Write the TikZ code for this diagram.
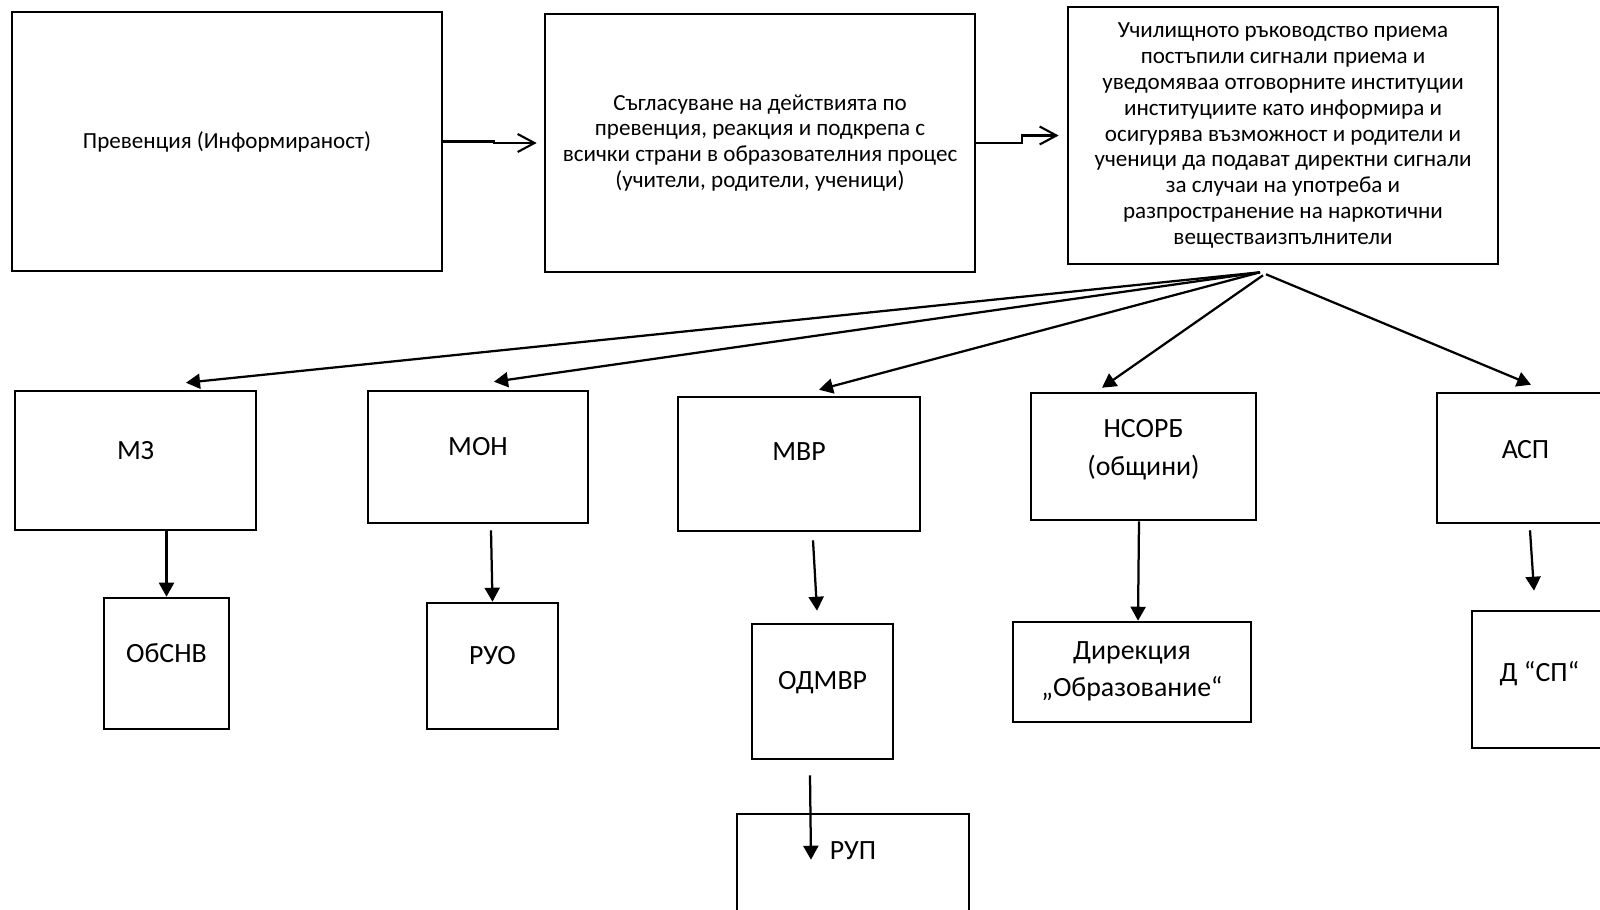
\documentclass[tikz,border=0pt]{standalone}
\usepackage{fontspec}
\setmainfont{Carlito}
\usetikzlibrary{arrows.meta}

\newcommand{\topfont}{\fontsize{16.4}{18.4}\selectfont}
\newcommand{\lowfont}{\fontsize{19.8}{26.7}\selectfont}

\begin{document}
\begin{tikzpicture}[x=0.025cm, y=-0.025cm,
    box/.style={draw, line width=1.8pt, align=center, inner sep=0pt},
    topbox/.style={box, font=\topfont, minimum width=10.75cm},
    lowbox/.style={box, font=\lowfont},
    barb/.style={line width=1.5pt, -{Straight Barb[length=0.42cm, width=0.45cm]}},
    tri/.style={line width=1.6pt, -{Triangle[length=0.35cm, width=0.375cm]}}]
    \useasboundingbox (0,0) rectangle (1600,909);
    \clip (0,0) rectangle (1600,909);

    % Top row
    \node[topbox, minimum height=6.475cm] (prev) at (227,141.5) {Превенция (Информираност)};
    \node[topbox, minimum height=6.45cm] (sagl) at (760,143)
        {Съгласуване на действията по\\превенция, реакция и подкрепа с\\всички страни в образователния процес\\(учители, родители, ученици)};
    \node[topbox, minimum height=6.425cm] (rakov) at (1283,135.5)
        {Училищното ръководство приема\\постъпили сигнали приема и\\уведомяваа отговорните институции\\институциите като информира и\\осигурява възможност и родители и\\ученици да подават директни сигнали\\за случаи на употреба и\\разпространение на наркотични\\веществаизпълнители};

    % Institutions
    \node[lowbox, minimum width=6.025cm, minimum height=3.475cm, text depth=0.525cm] (mz) at (135.5,460.5) {МЗ};
    \node[lowbox, minimum width=5.5cm, minimum height=3.3cm, text depth=0.55cm] (mon) at (478,457) {МОН};
    \node[lowbox, minimum width=6.05cm, minimum height=3.35cm, text depth=0.6cm] (mvr) at (799,464) {МВР};
    \node[lowbox, minimum width=5.625cm, minimum height=3.175cm, text depth=0.45cm] (nsorb) at (1143.5,456.5) {НСОРБ\\(общини)};
    \node[lowbox, minimum width=4.425cm, minimum height=3.25cm, text depth=0.425cm] (asp) at (1525.5,458) {АСП};

    % Local units
    \node[lowbox, minimum width=3.125cm, minimum height=3.275cm, text depth=0.525cm] (obsnv) at (166.5,663.5) {ОбСНВ};
    \node[lowbox, minimum width=3.275cm, minimum height=3.15cm, text depth=0.55cm] (ruo) at (492.5,666) {РУО};
    \node[lowbox, minimum width=3.525cm, minimum height=3.375cm, text depth=0.575cm] (odmvr) at (822.5,691.5) {ОДМВР};
    \node[lowbox, minimum width=5.8cm, minimum height=2.525cm, text depth=0.675cm] (rup) at (853,864.5) {РУП};
    \node[lowbox, minimum width=5.95cm, minimum height=2.5cm, text depth=0.15cm] (direk) at (1132,672) {Дирекция\\„Образование“};
    \node[lowbox, minimum width=3.375cm, minimum height=3.425cm, text depth=0.425cm] (dsp) at (1539.5,679.5) {Д “СП“};

    % Flow along the top
    \draw[barb] (prev.east) -- ++(51,0) |- ([xshift=-0.175cm]sagl.west);
    \draw[barb] (sagl.east) -- ++(46,0) |- ([xshift=-0.2cm]rakov.west);

    % Fan to the institutions
    \coordinate (fan) at ([shift={(-23,7)}]rakov.south);
    \draw[tri] (fan) -- ([shift={(50.5,-7)}]mz.north);
    \draw[tri] (fan) -- ([shift={(16,-8)}]mon.north);
    \draw[tri] (fan) -- ([shift={(20,-6)}]mvr.north);
    \draw[tri] ([shift={(-20,10)}]rakov.south) -- ([shift={(-41.5,-4)}]nsorb.north);
    \draw[tri] ([shift={(-17,9)}]rakov.south) -- ([shift={(5.5,-7)}]asp.north);

    % Down to the local units
    \draw[tri] (mz.south -| obsnv.north) -- (obsnv.north);
    \draw[tri] ([shift={(13,6)}]mon.south) -- (ruo.north);
    \draw[tri] ([shift={(14,8)}]mvr.south) -- ([shift={(-5.5,-12)}]odmvr.north);
    \draw[tri] ([shift={(-12.5,15)}]odmvr.south) -- ([shift={(-42,47)}]rup.north);
    \draw[tri] ([shift={(-4.5,0)}]nsorb.south) -- ([shift={(6,0)}]direk.north);
    \draw[tri] ([shift={(4.5,6)}]asp.south) -- ([shift={(-5.5,-19)}]dsp.north);
\end{tikzpicture}
\end{document}
